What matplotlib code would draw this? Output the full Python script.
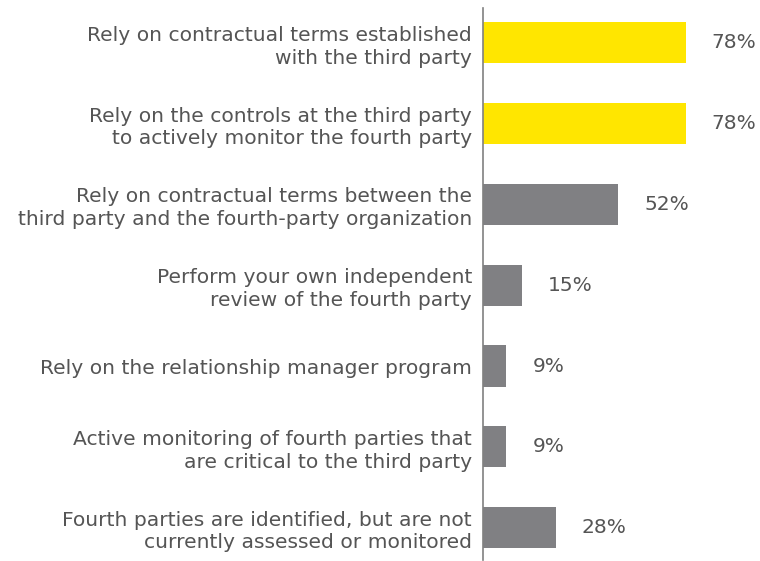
import matplotlib.pyplot as plt

labels = [
    "Rely on contractual terms established\nwith the third party",
    "Rely on the controls at the third party\nto actively monitor the fourth party",
    "Rely on contractual terms between the\nthird party and the fourth-party organization",
    "Perform your own independent\nreview of the fourth party",
    "Rely on the relationship manager program",
    "Active monitoring of fourth parties that\nare critical to the third party",
    "Fourth parties are identified, but are not\ncurrently assessed or monitored",
]
values = [78, 78, 52, 15, 9, 9, 28]
highlight = [True, True, False, False, False, False, False]

yellow = "#FFE600"
grey = "#808083"
text_col = "#555555"

plt.rcParams['font.family'] = ['DejaVu Sans']

fig = plt.figure(figsize=(7.6, 5.61), dpi=100)
ax = fig.add_axes([483 / 760, 1 - 560 / 561, 273 / 760, 552 / 561])

ypos = list(range(len(values)))
colors = [yellow if h else grey for h in highlight]
ax.barh(ypos, values, height=0.51, color=colors)

for y, v in zip(ypos, values):
    ax.text(v + 10, y, f"{v}%", va='center', ha='left', fontsize=14.5, color=text_col)

ax.set_xlim(0, 105)
ax.set_ylim(6.4, -0.43)
ax.set_yticks(ypos)
ax.set_yticklabels(labels, fontsize=14.6, color=text_col, linespacing=1.25)
ax.tick_params(axis='y', length=0, pad=8)
ax.set_xticks([])

for side in ['top', 'right', 'bottom']:
    ax.spines[side].set_visible(False)
ax.spines['left'].set_color('#808080')
ax.spines['left'].set_linewidth(1.2)

fig.savefig("out.png", dpi=100)
